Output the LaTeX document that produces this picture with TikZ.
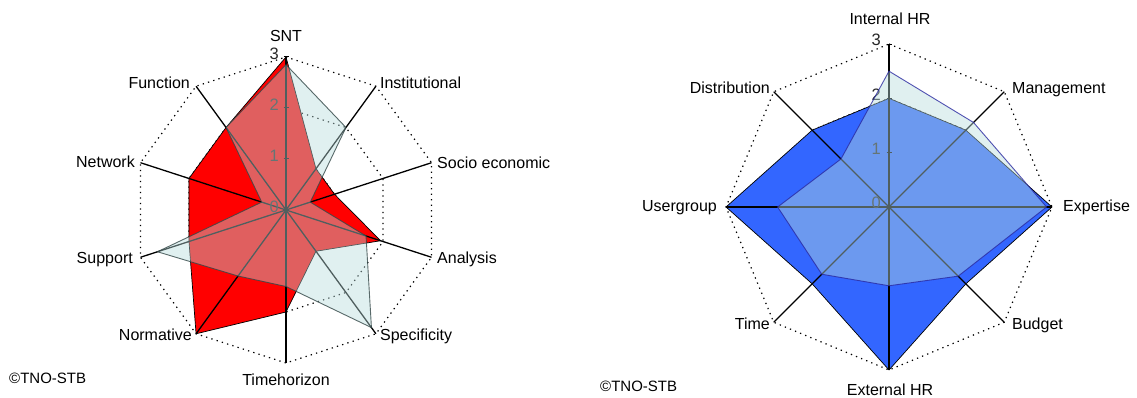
\documentclass[tikz,border=0pt]{standalone}
\usepackage{fontspec}
\setmainfont{Liberation Sans}
\usetikzlibrary{calc}
\definecolor{redS}{RGB}{255,0,0}
\definecolor{blueS}{RGB}{51,102,255}
\definecolor{cyanS}{RGB}{184,220,220}
\definecolor{cyanedgeL}{RGB}{50,70,70}
\definecolor{cyanedgeR}{RGB}{40,40,160}
\begin{document}
\begin{tikzpicture}[x=1pt,y=1pt,
  grid/.style={line width=1.2pt, dash pattern=on 1.3pt off 4.2pt, black},
  spoke/.style={line width=1.3pt, black},
  tickmark/.style={line width=1pt, black},
  ser1/.style={draw=black, line width=0.7pt, line join=miter},
  ser2/.style={fill=cyanS, fill opacity=0.435, draw opacity=0.8, line width=0.9pt, line join=miter},
  cat/.style={font=\fontsize{16}{16}\selectfont, inner sep=0pt},
  num/.style={font=\fontsize{16.5}{16.5}\selectfont, text=black!85, inner sep=0pt, anchor=east},
  copyr/.style={font=\fontsize{15}{15}\selectfont, inner sep=0pt, anchor=base west},
]
\useasboundingbox (0,0) rectangle (1137,398);

%================ LEFT CHART =================
\begin{scope}[shift={(286,188)}]
  \def\u{51}
  \coordinate (LC) at (0,0);
  \foreach \a [count=\i] in {90,54,18,-18,-54,-90,-126,-162,162,126} {
    \coordinate (LE\i) at (\a:153);
    \coordinate (LM\i) at (\a:102);
    \coordinate (LN\i) at (\a:51);
  }
  % gridlines
  \draw[grid] (LE1) -- (LE2) -- (LE3) -- (LE4) -- (LE5) -- (LE6) -- (LE7) -- (LE8) -- (LE9) -- (LE10) -- cycle;
  \draw[grid] (LM1) -- (LM2) -- (LM3) -- (LM4) -- (LM5) -- (LM6) -- (LM7) -- (LM8) -- (LM9) -- (LM10) -- cycle;
  \draw[grid] (LN1) -- (LN2) -- (LN3) -- (LN4) -- (LN5) -- (LN6) -- (LN7) -- (LN8) -- (LN9) -- (LN10) -- cycle;
  % series 1 (red)
  \draw[ser1, fill=redS] (90:{3*\u}) -- (54:{1*\u}) -- (18:{1*\u}) -- (-18:{1.95*\u}) -- (-54:{1*\u})
     -- (-90:{2*\u}) -- (-126:{3*\u}) -- (-162:{2*\u}) -- (162:{2*\u}) -- (126:{2*\u}) -- cycle;
  % spokes
  \foreach \i in {1,...,10} \draw[spoke] (LC) -- (LE\i);
  \foreach \k in {0,1,2,3} {
    \draw[tickmark] (-2.5,{\k*\u}) -- (2.5,{\k*\u});
    \node[num] (Lnum\k) at (-7,{\k*\u+3}) {\k};
  }
  % series 2 (cyan, translucent)
  \draw[ser2, draw=cyanedgeL] (90:{2.85*\u}) -- (54:{2*\u}) -- (18:{0.5*\u}) -- (-18:{1.65*\u}) -- (-54:{2.85*\u})
     -- (-90:{1.5*\u}) -- (-126:{1.6*\u}) -- (-162:{2.65*\u}) -- (162:{0.5*\u}) -- (126:{2*\u}) -- cycle;
  % labels
  \node[cat, anchor=base] (Lsnt) at ($(LE1)+(0,15)$) {SNT};
  \node[cat, anchor=base west] (Linst) at ($(LE2)+(4,-2)$) {Institutional};
  \node[cat, anchor=base west] (Lsocio) at ($(LE3)+(5.5,-5.5)$) {Socio economic};
  \node[cat, anchor=base west] (Lanal) at ($(LE4)+(5.5,-6.5)$) {Analysis};
  \node[cat, anchor=base west] (Lspec) at ($(LE5)+(4,-7)$) {Specificity};
  \node[cat, anchor=base] (Ltime) at ($(LE6)+(0,-23)$) {Timehorizon};
  \node[cat, anchor=base east] (Lnorm) at ($(LE7)+(-4,-7)$) {Normative};
  \node[cat, anchor=base east] (Lsupp) at ($(LE8)+(-7.5,-6.5)$) {Support};
  \node[cat, anchor=base east] (Lnet) at ($(LE9)+(-5.5,-4.5)$) {Network};
  \node[cat, anchor=base east] (Lfunc) at ($(LE10)+(-6,-2)$) {Function};
\end{scope}
\node[copyr] (Lcopy) at (9,14) {©TNO-STB};

%================ RIGHT CHART =================
\begin{scope}[shift={(889,191)}]
  \def\u{54.33}
  \coordinate (RC) at (0,0);
  \foreach \a [count=\i] in {90,45,0,-45,-90,-135,180,135} {
    \coordinate (RE\i) at (\a:163);
    \coordinate (RM\i) at (\a:108.67);
    \coordinate (RN\i) at (\a:54.33);
  }
  \draw[grid] (RE1) -- (RE2) -- (RE3) -- (RE4) -- (RE5) -- (RE6) -- (RE7) -- (RE8) -- cycle;
  \draw[grid] (RM1) -- (RM2) -- (RM3) -- (RM4) -- (RM5) -- (RM6) -- (RM7) -- (RM8) -- cycle;
  \draw[grid] (RN1) -- (RN2) -- (RN3) -- (RN4) -- (RN5) -- (RN6) -- (RN7) -- (RN8) -- cycle;
  % series 1 (blue)
  \draw[ser1, fill=blueS] (90:{2*\u}) -- (45:{2*\u}) -- (0:{3*\u}) -- (-45:{2*\u}) -- (-90:{3*\u})
     -- (-135:{2*\u}) -- (180:{3*\u}) -- (135:{2*\u}) -- cycle;
  \foreach \i in {1,...,8} \draw[spoke] (RC) -- (RE\i);
  \foreach \k in {0,1,2,3} {
    \draw[tickmark] (-2.5,{\k*\u}) -- (2.5,{\k*\u});
    \node[num] (Rnum\k) at (-8,{\k*\u+4}) {\k};
  }
  % series 2 (cyan, translucent)
  \draw[ser2, draw=cyanedgeR] (90:{2.5*\u}) -- (45:{2.2*\u}) -- (0:{2.9*\u}) -- (-45:{1.8*\u}) -- (-90:{1.45*\u})
     -- (-135:{1.75*\u}) -- (180:{2.05*\u}) -- (135:{1.25*\u}) -- cycle;
  % labels
  \node[cat, anchor=base] (Rihr) at ($(RE1)+(1,19)$) {Internal HR};
  \node[cat, anchor=base west] (Rmgmt) at ($(RE2)+(7.7,-1.3)$) {Management};
  \node[cat, anchor=base west] (Rexp) at ($(RE3)+(11,-5)$) {Expertise};
  \node[cat, anchor=base west] (Rbud) at ($(RE4)+(7.7,-7.7)$) {Budget};
  \node[cat, anchor=base] (Rehr) at ($(RE5)+(1,-26)$) {External HR};
  \node[cat, anchor=base east] (Rtime) at ($(RE6)+(-3.7,-7.7)$) {Time};
  \node[cat, anchor=base east] (Ruser) at ($(RE7)+(-9,-5)$) {Usergroup};
  \node[cat, anchor=base east] (Rdist) at ($(RE8)+(-3.7,-1.3)$) {Distribution};
\end{scope}
\node[copyr] (Rcopy) at (600,6) {©TNO-STB};
\end{tikzpicture}
\end{document}
